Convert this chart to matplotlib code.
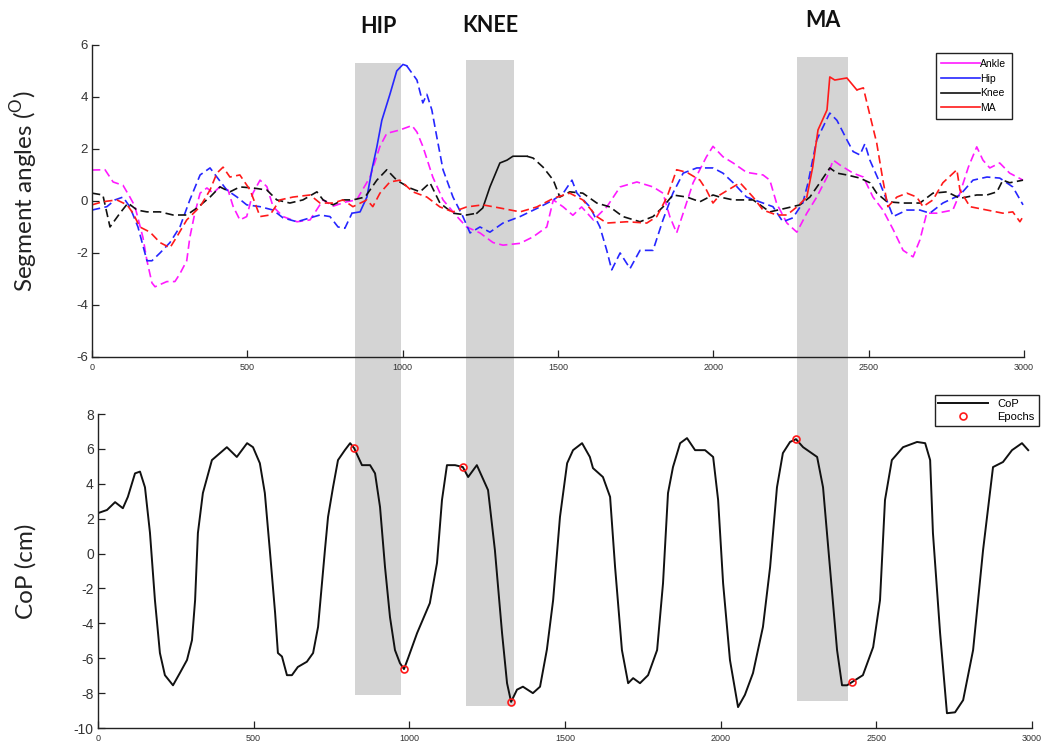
"""
Segment angles and centre-of-pressure traces with epoch bands.
"""

import matplotlib.pyplot as plt
import numpy as np
from matplotlib.patches import Rectangle
from matplotlib.transforms import blended_transform_factory

# ---- segment angles (deg) ----
ankle_t = [0, 42, 68, 100, 122, 138, 164, 177, 193, 203, 241, 267, 283, 305, 315, 331, 348, 370, 390,
           412, 438, 454, 476, 498, 518, 541, 563, 583, 615, 660, 702, 744, 776, 820, 852, 895, 927,
           949, 991, 1030, 1046, 1065, 1097, 1130, 1175, 1206, 1249, 1291, 1323, 1378, 1420, 1464,
           1485, 1517, 1548, 1576, 1614, 1657, 1700, 1754, 1806, 1838, 1860, 1882, 1903, 1935, 1978,
           1999, 2031, 2064, 2107, 2160, 2182, 2204, 2237, 2269, 2301, 2333, 2366, 2386, 2408, 2450,
           2483, 2514, 2546, 2579, 2611, 2643, 2665, 2687, 2720, 2771, 2794, 2821, 2848, 2868, 2890,
           2922, 2954, 2997]
ankle_v = [1.19, 1.2, 0.73, 0.6, 0.15, -0.2, -1.4, -2.3, -3.15, -3.3, -3.1, -3.1, -2.8, -2.3, -1.4,
           -0.47, 0.3, 0.5, 0.3, 0.55, 0.42, -0.2, -0.73, -0.6, 0.3, 0.8, 0.55, -0.22, -0.6, -0.8,
           -0.73, 0.04, -0.2, -0.03, 0.04, 0.92, 2.1, 2.6, 2.73, 2.9, 2.65, 2.1, 0.92, 0.04, -0.6,
           -1.0, -1.23, -1.6, -1.7, -1.63, -1.38, -1.0, 0.04, -0.23, -0.55, -0.23, -0.73, -0.23, 0.54,
           0.73, 0.54, 0.3, -0.6, -1.23, -0.47, 0.7, 1.7, 2.1, 1.7, 1.46, 1.1, 1.0, 0.8, -0.1, -0.85,
           -1.2, -0.47, 0.15, 0.92, 1.57, 1.38, 1.07, 0.92, 0.15, -0.35, -1.1, -1.9, -2.15, -1.5,
           -0.47, -0.47, -0.35, 0.3, 1.3, 2.08, 1.57, 1.27, 1.46, 1.07, 0.8]

hip_t = [0, 48, 74, 100, 122, 148, 177, 193, 219, 251, 283, 315, 348, 380, 402, 434, 467, 498, 541,
         583, 615, 660, 702, 734, 766, 792, 814, 837, 863, 885, 901, 917, 933, 959, 981, 1001,
         1013, 1046, 1065, 1078, 1094, 1110, 1130, 1162, 1194, 1217, 1249, 1281, 1323, 1378, 1442,
         1485, 1517, 1545, 1561, 1603, 1635, 1657, 1673, 1700, 1732, 1764, 1806, 1838, 1870, 1903,
         1947, 1999, 2031, 2064, 2107, 2160, 2192, 2224, 2256, 2288, 2305, 2333, 2375, 2398, 2430,
         2450, 2472, 2488, 2504, 2536, 2579, 2623, 2665, 2697, 2739, 2794, 2836, 2881, 2922, 2964,
         2997]
hip_v = [-0.35, -0.22, 0.04, 0.15, -0.23, -1.0, -2.3, -2.3, -2.0, -1.6, -1.0, 0.04, 1.0, 1.27, 0.92,
         0.42, 0.15, -0.15, -0.22, -0.35, -0.65, -0.8, -0.65, -0.54, -0.6, -1.0, -1.05, -0.47,
         -0.42, 0.15, 1.2, 2.08, 3.1, 4.1, 5.0, 5.25, 5.2, 4.65, 3.77, 4.1, 3.5, 2.46, 1.2, 0.15,
         -0.6, -1.23, -1.0, -1.2, -0.85, -0.6, -0.23, 0.04, 0.3, 0.8, 0.3, -0.23, -1.0, -1.9, -2.65,
         -2.0, -2.6, -1.9, -1.9, -0.73, 0.3, 1.07, 1.27, 1.27, 1.07, 0.7, 0.15, -0.08, -0.22, -0.8,
         -0.65, -0.08, 0.7, 2.35, 3.38, 3.1, 2.35, 1.9, 1.77, 2.2, 1.57, 0.7, -0.6, -0.35, -0.35,
         -0.47, -0.08, 0.23, 0.8, 0.92, 0.88, 0.54, -0.15]

knee_t = [0, 35, 58, 90, 116, 145, 177, 219, 261, 305, 338, 380, 412, 444, 476, 518, 563, 595, 637,
          679, 724, 744, 776, 808, 840, 879, 917, 949, 981, 1023, 1056, 1088, 1120, 1162, 1206,
          1239, 1258, 1281, 1313, 1336, 1355, 1400, 1420, 1452, 1485, 1506, 1538, 1580, 1625, 1667,
          1709, 1764, 1806, 1838, 1870, 1915, 1957, 1999, 2021, 2064, 2128, 2182, 2237, 2279, 2311,
          2343, 2375, 2398, 2430, 2472, 2504, 2526, 2559, 2611, 2665, 2707, 2752, 2794, 2848, 2881,
          2913, 2932, 2954, 2997]
knee_v = [0.3, 0.23, -1.0, -0.47, -0.08, -0.35, -0.42, -0.42, -0.54, -0.54, -0.27, 0.15, 0.54,
          0.35, 0.54, 0.5, 0.42, 0.04, -0.08, 0.04, 0.35, 0.04, -0.15, 0.04, 0.04, 0.15, 0.8, 1.2,
          0.8, 0.5, 0.35, 0.7, -0.08, -0.47, -0.54, -0.47, -0.27, 0.54, 1.46, 1.57, 1.72, 1.72,
          1.65, 1.3, 0.8, 0.15, 0.35, 0.3, -0.08, -0.23, -0.6, -0.8, -0.6, -0.23, 0.23, 0.15, -0.03,
          0.23, 0.15, 0.04, 0.04, -0.42, -0.27, -0.15, 0.15, 0.7, 1.27, 1.07, 1.0, 0.88, 0.7, 0.3,
          -0.03, -0.08, -0.08, 0.3, 0.35, 0.1, 0.23, 0.23, 0.35, 0.8, 0.7, 0.8]

ma_t = [0, 35, 80, 113, 132, 154, 187, 219, 251, 273, 305, 348, 380, 402, 422, 444, 476, 509, 541,
        573, 605, 647, 702, 734, 776, 808, 840, 885, 904, 927, 959, 991, 1033, 1078, 1120, 1162,
        1206, 1258, 1313, 1378, 1432, 1485, 1538, 1580, 1625, 1657, 1722, 1786, 1818, 1851, 1882,
        1915, 1957, 1978, 1999, 2021, 2086, 2128, 2160, 2204, 2237, 2269, 2301, 2320, 2337, 2366,
        2375, 2391, 2430, 2462, 2483, 2498, 2526, 2546, 2562, 2591, 2623, 2655, 2675, 2707, 2739,
        2784, 2794, 2826, 2881, 2932, 2964, 2987, 3000]
ma_v = [-0.15, -0.03, 0.04, -0.15, -0.47, -1.0, -1.2, -1.6, -1.8, -1.38, -0.73, -0.22, 0.42, 1.07,
        1.3, 0.92, 1.0, 0.42, -0.6, -0.54, 0.04, 0.15, 0.23, -0.08, -0.08, 0.04, -0.22, 0.04, -0.22,
        0.3, 0.73, 0.8, 0.35, 0.15, -0.23, -0.42, -0.23, -0.15, -0.27, -0.42, -0.23, 0.1, 0.3, 0.04,
        -0.6, -0.85, -0.8, -0.85, -0.6, 0.15, 1.2, 1.1, 0.8, 0.42, -0.08, 0.23, 0.7, 0.15, -0.35,
        -0.54, -0.54, -0.23, 0.15, 1.3, 2.73, 3.5, 4.77, 4.65, 4.73, 4.27, 4.35, 3.6, 2.23, 0.8,
        -0.22, 0.15, 0.3, 0.15, -0.22, 0.04, 0.7, 1.2, 0.42, -0.22, -0.35, -0.47, -0.42, -0.8,
        -0.54]

# stretch of each joint drawn solid (inside its epoch window)
solid_windows = {"Hip": (837, 1013), "Knee": (1239, 1400), "MA": (2301, 2462)}

# ---- centre of pressure (cm) ----
cop_t = [0, 29, 55, 80, 96, 119, 135, 151, 167, 183, 199, 215, 241, 263, 286, 302, 312, 321, 337,
         366, 392, 414, 446, 479, 498, 520, 536, 552, 569, 578, 591, 607, 623, 642, 671, 691, 707,
         729, 739, 755, 771, 793, 810, 823, 848, 874, 890, 906, 922, 938, 954, 970, 983, 996, 1025,
         1066, 1089, 1105, 1121, 1147, 1172, 1189, 1217, 1253, 1275, 1298, 1314, 1327, 1346, 1365,
         1397, 1420, 1442, 1462, 1484, 1507, 1526, 1555, 1580, 1590, 1622, 1645, 1661, 1683, 1703,
         1719, 1741, 1767, 1796, 1815, 1831, 1847, 1870, 1892, 1918, 1950, 1976, 1992, 2008, 2030,
         2056, 2078, 2104, 2136, 2159, 2181, 2200, 2223, 2242, 2265, 2310, 2329, 2351, 2374, 2390,
         2406, 2422, 2457, 2490, 2512, 2528, 2550, 2586, 2631, 2657, 2673, 2682, 2705, 2727, 2753,
         2779, 2811, 2843, 2875, 2907, 2936, 2968, 2988]
cop_v = [2.32, 2.5, 2.95, 2.6, 3.25, 4.6, 4.7, 3.8, 1.2, -2.67, -5.7, -6.97, -7.55, -6.85, -6.1,
         -4.96, -2.67, 1.18, 3.47, 5.36, 5.76, 6.1, 5.54, 6.33, 6.1, 5.18, 3.47, 0.2, -3.4, -5.7,
         -5.9, -6.97, -6.97, -6.5, -6.2, -5.7, -4.2, 0.2, 2.1, 3.8, 5.36, 5.93, 6.33, 6.04, 5.07,
         5.07, 4.6, 2.67, -0.77, -3.64, -5.53, -6.28, -6.62, -6.0, -4.56, -2.84, -0.54, 3.07, 5.07,
         5.07, 4.96, 4.39, 5.07, 3.64, 0.2, -4.56, -7.43, -8.5, -7.8, -7.63, -8.0, -7.63, -5.5,
         -2.67, 2.1, 5.18, 5.93, 6.33, 5.54, 4.9, 4.39, 3.25, -0.77, -5.53, -7.43, -7.14, -7.43,
         -6.97, -5.53, -1.7, 3.47, 4.96, 6.33, 6.62, 5.93, 5.93, 5.54, 3.07, -1.7, -6.1, -8.8,
         -8.1, -6.85, -4.2, -0.77, 3.8, 5.76, 6.4, 6.56, 6.1, 5.54, 3.8, -0.77, -5.53, -7.55, -7.55,
         -7.37, -6.97, -5.36, -2.67, 3.07, 5.36, 6.1, 6.4, 6.33, 5.36, 1.18, -4.56, -9.15, -9.1,
         -8.4, -5.53, 0.2, 4.96, 5.25, 5.93, 6.33, 5.93]

epoch_t = [823, 983, 1172, 1327, 2242, 2422]

# epoch windows on the time axis, with their captions
band_names = ["HIP", "KNEE", "MA"]
band_start = [826, 1182, 2245]
band_end = [973, 1336, 2409]

TICK_FONT = "Liberation Sans"
LABEL_FONT = "Lato"

plt.rcParams["axes.unicode_minus"] = False


def _joint_trace(ax, t, v, color, label, window=None):
    t = np.asarray(t, dtype=float)
    v = np.asarray(v, dtype=float)
    dash = (0, (5, 2.6))
    if window is None:
        ax.plot(t, v, color=color, lw=1.2, ls=dash)
    else:
        a, b = window
        pre = t <= a
        mid = (t >= a) & (t <= b)
        post = t >= b
        ax.plot(t[pre], v[pre], color=color, lw=1.2, ls=dash)
        ax.plot(t[mid], v[mid], color=color, lw=1.2, ls="-")
        ax.plot(t[post], v[post], color=color, lw=1.2, ls=dash)
    # legend proxy
    ax.plot([], [], color=color, lw=1.2, label=label)


def _style_axes(ax, ytick_size):
    ax.set_facecolor("none")
    for side in ("top", "right"):
        ax.spines[side].set_visible(False)
    for side in ("left", "bottom"):
        ax.spines[side].set_linewidth(1.0)
        ax.spines[side].set_color("#222222")
    ax.tick_params(direction="in", length=5, width=0.9, colors="#222222")
    ax.tick_params(axis="x", labelsize=6.5, pad=4)
    ax.tick_params(axis="y", labelsize=ytick_size, pad=3)
    for lab in ax.get_xticklabels() + ax.get_yticklabels():
        lab.set_fontfamily(TICK_FONT)
        lab.set_color("#333333")


fig = plt.figure(figsize=(10.5, 7.49), dpi=100)
fig.patch.set_facecolor("white")

ax1 = fig.add_axes([0.0876, 0.5234, 0.8876, 0.4166])
ax2 = fig.add_axes([0.0933, 0.0280, 0.8895, 0.4192])

# top: segment angles
_joint_trace(ax1, ankle_t, ankle_v, "#ff1aff", "Ankle")
_joint_trace(ax1, hip_t, hip_v, "#2626ff", "Hip", solid_windows["Hip"])
_joint_trace(ax1, knee_t, knee_v, "#111111", "Knee", solid_windows["Knee"])
_joint_trace(ax1, ma_t, ma_v, "#ff1a1a", "MA", solid_windows["MA"])
ax1.set_xlim(0, 3000)
ax1.set_ylim(-6, 6)
ax1.set_xticks(np.arange(0, 3001, 500))
ax1.set_yticks(np.arange(-6, 7, 2))
_style_axes(ax1, 9.5)
ax1.set_ylabel(r"Segment angles ($^{\mathregular{O}}$)", fontsize=17.5, family=LABEL_FONT,
               color="#222222")
ax1.yaxis.set_label_coords(-0.056, 0.53)
leg1 = ax1.legend(loc="upper right", bbox_to_anchor=(0.993, 0.99), handlelength=3.7,
                  handletextpad=0.05, labelspacing=0.45, borderpad=0.55, fancybox=False,
                  framealpha=1, prop={"family": TICK_FONT, "size": 7.5})
leg1.get_frame().set_edgecolor("#222222")
leg1.get_frame().set_linewidth(1.0)

# bottom: centre of pressure with epochs
ax2.plot(cop_t, cop_v, color="#111111", lw=1.4, solid_joinstyle="round", label="CoP")
epoch_v = np.interp(epoch_t, cop_t, cop_v)
ax2.plot(epoch_t, epoch_v, ls="none", marker="o", ms=5, mfc="none", mec="#ff1a1a", mew=1.2,
         label="Epochs")
ax2.set_xlim(0, 3000)
ax2.set_ylim(-10, 8)
ax2.set_xticks(np.arange(0, 3001, 500))
ax2.set_yticks(np.arange(-10, 9, 2))
_style_axes(ax2, 10)
ax2.set_ylabel("CoP (cm)", fontsize=17.5, family=LABEL_FONT, color="#222222")
ax2.yaxis.set_label_coords(-0.066, 0.5)
leg2 = ax2.legend(loc="upper right", bbox_to_anchor=(1.013, 1.078), handlelength=4.5,
                  handletextpad=0.8, labelspacing=0.25, borderpad=0.35, fancybox=False,
                  framealpha=1, prop={"family": TICK_FONT, "size": 8})
leg2.get_frame().set_edgecolor("#222222")
leg2.get_frame().set_linewidth(1.0)

# epoch bands spanning both panels, behind the traces
band_tf = blended_transform_factory(ax2.transData, fig.transFigure)
band_bottom = [0.072, 0.057, 0.064]
band_top = [0.916, 0.920, 0.924]
band_label_y = [0.964, 0.966, 0.973]
for name, x0, x1, y0, y1, ty in zip(band_names, band_start, band_end, band_bottom, band_top,
                                    band_label_y):
    fig.add_artist(Rectangle((x0, y0), x1 - x0, y1 - y0, transform=band_tf,
                             facecolor="#d4d4d4", edgecolor="none", zorder=-1))
    fig.text(0.5 * (x0 + x1), ty, name, transform=band_tf, ha="center", va="center",
             fontsize=15.5, fontweight="bold", family=LABEL_FONT, color="#111111")

fig.savefig("out.png", dpi=100, facecolor="white")
